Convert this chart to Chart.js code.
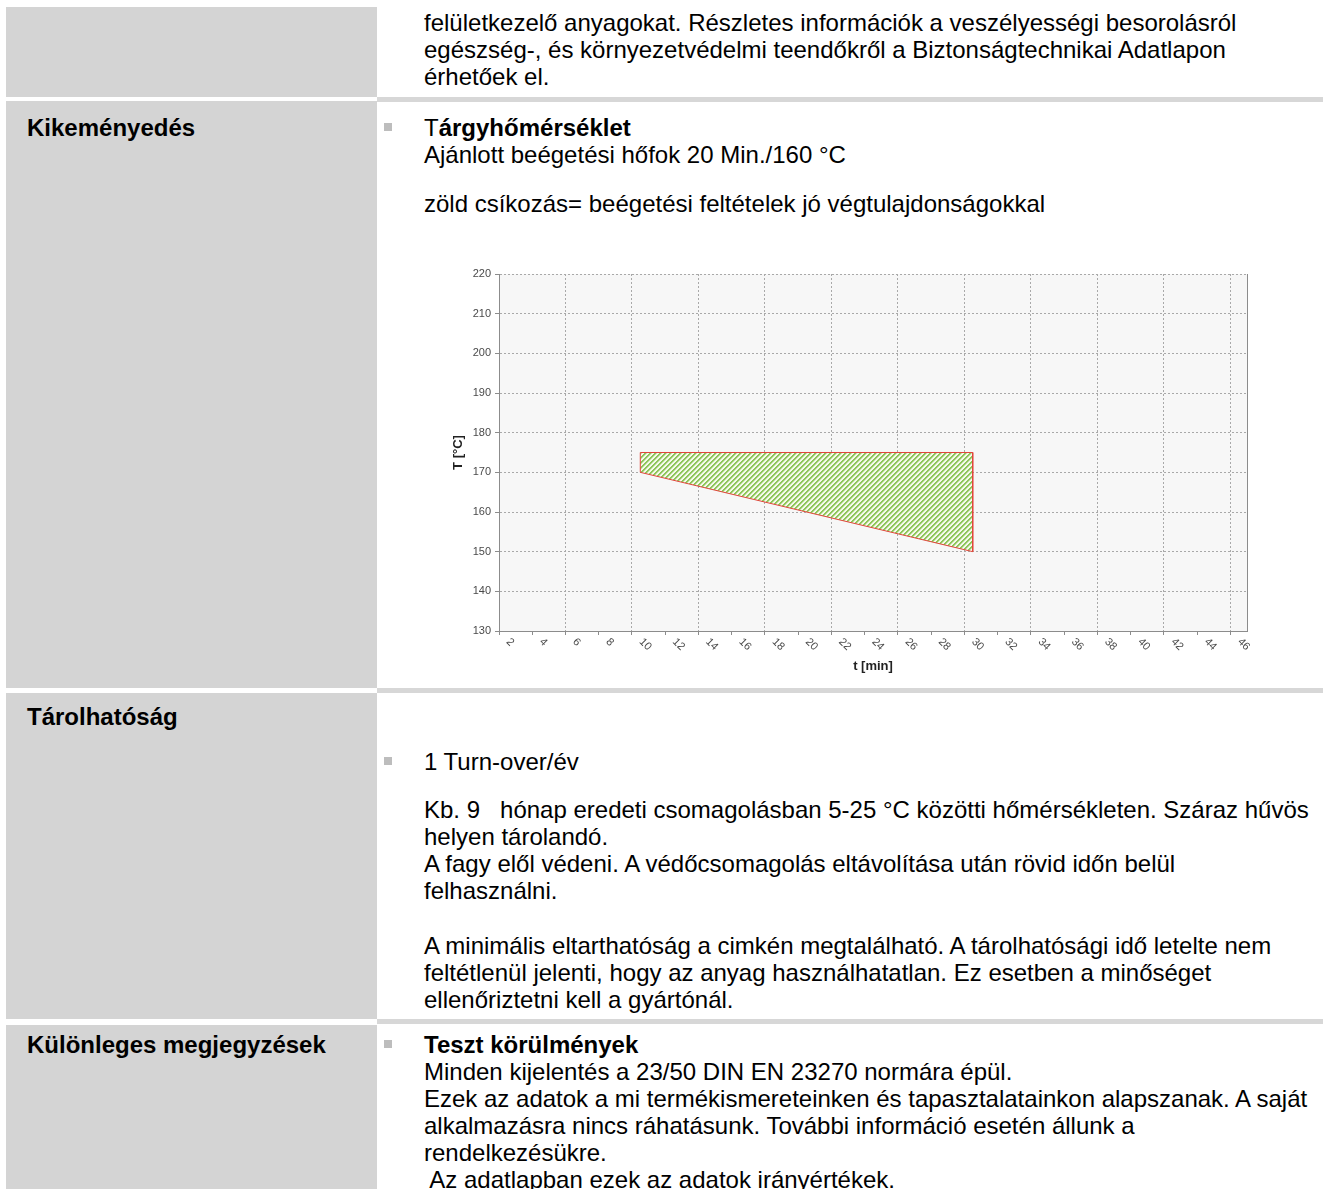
<!DOCTYPE html>
<html>
<head>
<meta charset="utf-8">
<title>Kikeményedés – tárgyhőmérséklet</title>
<script src="https://cdn.jsdelivr.net/npm/chart.js@4/dist/chart.umd.min.js"></script>
<style>
  html, body { margin: 0; padding: 0; background: #fff; }
  body {
    width: 1330px; height: 1189px; position: relative; overflow: hidden;
    font-family: "Liberation Sans", Arial, sans-serif; font-size: 24px; color: #000;
  }
  .gray { position: absolute; left: 6px; width: 371px; background: #d4d4d4; }
  .band { position: absolute; left: 377px; width: 946px; height: 5px; background: #d7d7d7; }
  .lbl  { position: absolute; left: 27px; font-weight: bold; line-height: 27px; white-space: pre; }
  .txt  { position: absolute; left: 424px; line-height: 27px; white-space: pre; }
  .bul  { position: absolute; left: 384px; width: 8px; height: 8px; background: #bdbdbd; }
  #chartBox { position: absolute; left: 430px; top: 262px; width: 830px; height: 420px; }
</style>
</head>
<body>

<!-- left column blocks and row separators -->
<div class="gray" style="top:7px;height:90px"></div>
<div class="gray" style="top:101px;height:587px"></div>
<div class="gray" style="top:693px;height:326px"></div>
<div class="gray" style="top:1025px;height:164px"></div>
<div class="band" style="top:97px"></div>
<div class="band" style="top:688px"></div>
<div class="band" style="top:1019px"></div>

<div class="txt" style="top:9px">felületkezelő anyagokat. Részletes információk a veszélyességi besorolásról
egészség-, és környezetvédelmi teendőkről a Biztonságtechnikai Adatlapon
érhetőek el.</div>

<div class="lbl" style="top:114px">Kikeményedés</div>
<div class="bul" style="top:123px"></div>
<div class="txt" style="top:114px">T<b>árgyhőmérséklet</b>
Ajánlott beégetési hőfok 20 Min./160 °C</div>
<div class="txt" style="top:190px">zöld csíkozás= beégetési feltételek jó végtulajdonságokkal</div>

<div id="chartBox"><canvas id="tempChart" width="830" height="420"></canvas></div>

<div class="lbl" style="top:703px">Tárolhatóság</div>
<div class="bul" style="top:757px"></div>
<div class="txt" style="top:748px">1 Turn-over/év</div>
<div class="txt" style="top:796px">Kb. 9   hónap eredeti csomagolásban 5-25 °C közötti hőmérsékleten. Száraz hűvös
helyen tárolandó.
A fagy elől védeni. A védőcsomagolás eltávolítása után rövid időn belül
felhasználni.</div>
<div class="txt" style="top:932px">A minimális eltarthatóság a cimkén megtalálható. A tárolhatósági idő letelte nem
feltétlenül jelenti, hogy az anyag használhatatlan. Ez esetben a minőséget
ellenőriztetni kell a gyártónál.</div>

<div class="lbl" style="top:1031px">Különleges megjegyzések</div>
<div class="bul" style="top:1040px"></div>
<div class="txt" style="top:1031px"><b>Teszt körülmények</b>
Minden kijelentés a 23/50 DIN EN 23270 normára épül.
Ezek az adatok a mi termékismereteinken és tapasztalatainkon alapszanak. A saját
alkalmazásra nincs ráhatásunk. További információ esetén állunk a
rendelkezésükre.
 Az adatlapban ezek az adatok irányértékek.</div>

<script>
// axis ticks
const timeTicks = [2, 4, 6, 8, 10, 12, 14, 16, 18, 20, 22, 24, 26, 28, 30, 32, 34, 36, 38, 40, 42, 44, 46];
const tempTicks = [130, 140, 150, 160, 170, 180, 190, 200, 210, 220];

// corners of the green baking window (closed shape)
const zoneTime = [10.5, 30.5, 30.5, 10.5, 10.5];
const zoneTemp = [175, 175, 150, 170, 175];

const FONT = '"Liberation Sans", Arial, sans-serif';
const gridGray = '#a9a9a9';
const axisGray = '#8c8c8c';

// green diagonal hatching
function hatch() {
  const n = 5;
  const c = document.createElement('canvas');
  c.width = n; c.height = n;
  const g = c.getContext('2d');
  for (let x = 0; x < n; x++) {
    for (let y = 0; y < n; y++) {
      const d = (x + y) % n;
      g.fillStyle = d < 2 ? '#8fc65a' : (d === 2 ? '#c6e2a8' : '#f6f9ec');
      g.fillRect(x, y, 1, 1);
    }
  }
  return g.createPattern(c, 'repeat');
}

// plot background, right frame line and slanted time labels
const plotFrame = {
  id: 'plotFrame',
  beforeDraw(chart) {
    const a = chart.chartArea, ctx = chart.ctx;
    ctx.save();
    ctx.fillStyle = '#f7f7f7';
    ctx.fillRect(a.left, a.top, a.right - a.left, a.bottom - a.top);
    ctx.restore();
  },
  afterDraw(chart) {
    const a = chart.chartArea, ctx = chart.ctx, xs = chart.scales.x;
    ctx.save();
    ctx.strokeStyle = axisGray;
    ctx.lineWidth = 1;
    ctx.beginPath();
    ctx.moveTo(Math.round(a.right) + 0.5, a.top);
    ctx.lineTo(Math.round(a.right) + 0.5, a.bottom);
    ctx.stroke();

    ctx.fillStyle = '#4a4a4a';
    ctx.font = '11px ' + FONT;
    ctx.textAlign = 'left';
    ctx.textBaseline = 'middle';
    timeTicks.forEach(v => {
      const px = xs.getPixelForValue(v);
      ctx.save();
      ctx.translate(px + 9, a.bottom + 9);
      ctx.rotate(Math.PI / 4);
      ctx.fillText(String(v), 0, 0);
      ctx.restore();
    });
    ctx.restore();
  }
};

new Chart(document.getElementById('tempChart'), {
  type: 'scatter',
  data: {
    datasets: [{
      label: 'beégetési feltételek',
      data: zoneTime.map((t, i) => ({ x: t, y: zoneTemp[i] })),
      showLine: true,
      fill: 'shape',
      backgroundColor: hatch(),
      borderColor: '#e2463c',
      borderWidth: 1,
      pointRadius: 0,
      pointHoverRadius: 0,
      tension: 0
    }]
  },
  options: {
    responsive: false,
    animation: false,
    layout: { padding: { top: 12, right: 13, left: 0, bottom: 0 } },
    scales: {
      x: {
        type: 'linear',
        min: 2,
        max: 47,
        afterBuildTicks: s => { s.ticks = timeTicks.map(v => ({ value: v })); },
        afterFit: s => { s.height = 51; },
        ticks: { display: false, stepSize: 2 },
        grid: {
          // dashed line only every second tick, short tick marks everywhere
          color: c => (c.tick && (c.tick.value - 2) % 4 === 0) ? gridGray : 'rgba(0,0,0,0)',
          tickColor: axisGray,
          tickLength: 4,
          borderDash: [2, 2]
        },
        border: { color: axisGray, dash: [2, 2] },
        title: {
          display: true,
          text: 't [min]',
          color: '#222',
          font: { family: FONT, size: 13, weight: 'bold' },
          padding: { top: 0, bottom: 8 }
        }
      },
      y: {
        min: 130,
        max: 220,
        afterBuildTicks: s => { s.ticks = tempTicks.map(v => ({ value: v })); },
        afterFit: s => { s.width = 69; },
        ticks: { stepSize: 10, padding: 4, color: '#4a4a4a', font: { family: FONT, size: 11 } },
        grid: { color: gridGray, tickColor: axisGray, tickLength: 4, borderDash: [2, 2] },
        border: { color: axisGray, dash: [2, 2] },
        title: {
          display: true,
          text: 'T [°C]',
          color: '#222',
          font: { family: FONT, size: 13, weight: 'bold' },
          padding: { top: 21, bottom: 0 }
        }
      }
    },
    plugins: {
      legend: { display: false },
      tooltip: { enabled: false }
    }
  },
  plugins: [plotFrame]
});
</script>
</body>
</html>
